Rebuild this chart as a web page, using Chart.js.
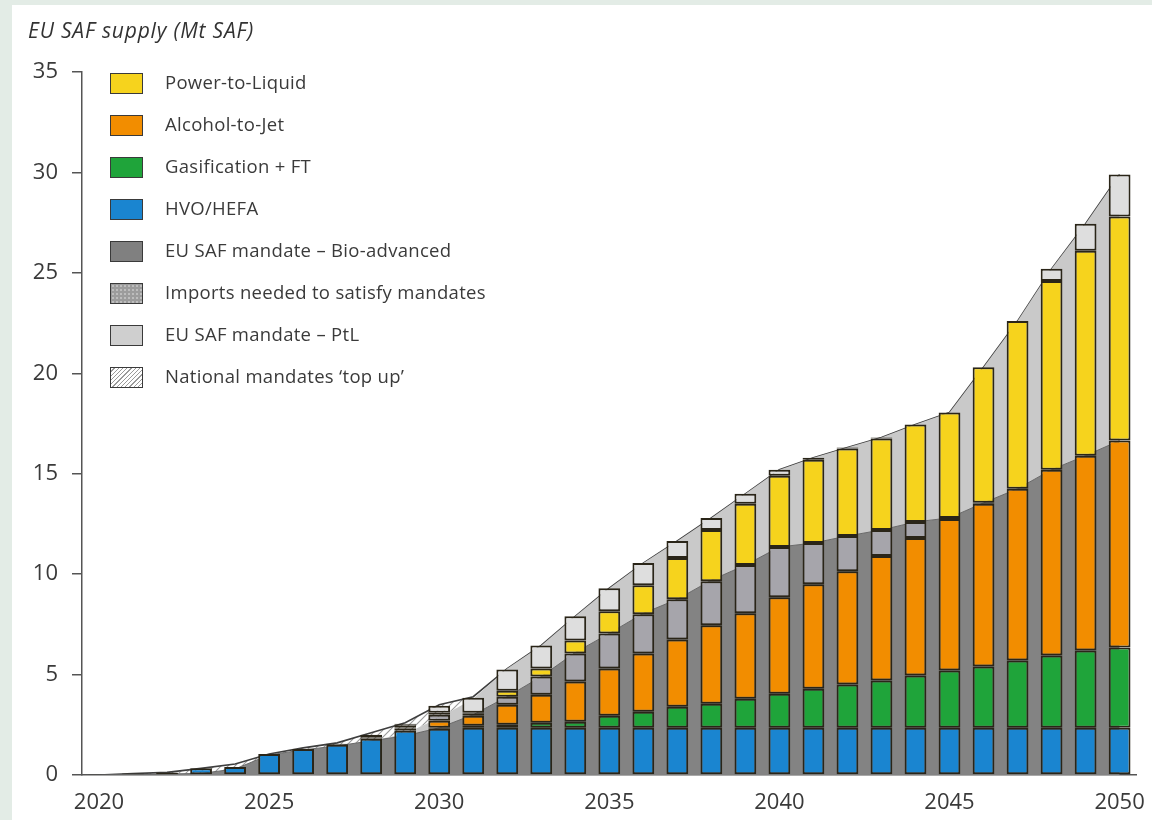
<!DOCTYPE html>
<html>
<head>
<meta charset="utf-8">
<script src="https://cdn.jsdelivr.net/npm/chart.js@4.4.1/dist/chart.umd.min.js"></script>
<style>
  body { margin: 0; background: #e3ece6; font-family: "Open Sans", sans-serif; overflow: hidden; }
  #panel { position: absolute; left: 12px; top: 5px; right: 0; bottom: 0; background: #fff; }
  #title { position: absolute; left: 28px; top: 16px; font-size: 21px; font-style: italic; letter-spacing: 0.8px; color: #333; }
  #chart { position: absolute; left: 0; top: 0; }
  #legend { position: absolute; left: 110px; top: 73px; }
  .item { position: absolute; left: 0; height: 22px; white-space: nowrap; }
  .box { position: absolute; left: 0; top: 0; width: 31px; height: 19px; border: 1.5px solid #3a3a3a; }
  .lbl { position: absolute; left: 55px; top: -4px; font-size: 18.5px; letter-spacing: 0.3px; color: #3a3a3a; }
</style>
</head>
<body>
<div id="panel"></div>
<canvas id="chart" width="1152" height="820"></canvas>
<div id="title">EU SAF supply (Mt SAF)</div>
<div id="legend"></div>
<script>
const years = ['2020','2021','2022','2023','2024','2025','2026','2027','2028','2029',
  '2030','2031','2032','2033','2034','2035','2036','2037','2038','2039',
  '2040','2041','2042','2043','2044','2045','2046','2047','2048','2049','2050'];
const xTickLabels = ['2020','2025','2030','2035','2040','2045','2050'];

// bar segments (Mt SAF)
const hvo = [0.02,0.07,0.12,0.33,0.4,1.05,1.3,1.5,1.8,2.2,
  2.3,2.35,2.35,2.35,2.35,2.35,2.35,2.35,2.35,2.35,
  2.35,2.35,2.35,2.35,2.35,2.35,2.35,2.35,2.35,2.35,2.35];
const gasFt = [null,null,null,null,null,null,null,0.05,0.05,0.1,
  0.05,0.1,0.15,0.25,0.3,0.6,0.8,1.05,1.2,1.45,
  1.7,1.95,2.15,2.35,2.6,2.85,3.05,3.35,3.6,3.85,4.0];
const atj = [null,null,null,null,null,null,null,null,0.15,0.05,
  0.35,0.5,1.0,1.4,2.0,2.35,2.9,3.35,3.9,4.25,
  4.8,5.2,5.65,6.2,6.85,7.55,8.1,8.55,9.25,9.7,10.3];
const imports = [null,null,null,null,null,null,null,null,null,0.1,
  0.3,0.1,0.4,0.9,1.4,1.75,1.95,2.0,2.2,2.4,
  2.5,2.05,1.75,1.3,0.8,0.05,0.05,null,null,null,null];
const ptl = [null,null,null,null,null,null,null,null,null,0.05,
  0.1,0.05,0.3,0.4,0.65,1.1,1.45,2.05,2.55,3.05,
  3.55,4.15,4.35,4.55,4.85,5.25,6.75,8.35,9.4,10.2,11.15];
const ptlImports = [null,null,null,null,null,null,null,null,null,0.05,
  0.35,0.75,1.05,1.15,1.2,1.15,1.1,0.85,0.6,0.5,
  0.3,0.1,0.05,0.05,null,null,null,null,0.6,1.35,2.1];

// mandate areas behind the bars
const bioMandate = [0,0.02,0.05,0.08,0.3,1.0,1.25,1.45,1.7,1.95,
  2.35,3.0,3.9,4.9,6.1,7.05,8.05,8.75,9.7,10.45,
  11.35,11.55,11.9,12.2,12.6,12.8,13.55,14.25,15.2,15.9,16.65];
const ptlMandate = [0,0,0,0,0,0,0,0,0,0.1,
  0.5,0.8,1.4,1.55,1.8,2.25,2.5,2.9,3.1,3.55,
  3.85,4.25,4.4,4.6,4.85,5.25,6.75,8.35,10.0,11.55,13.25];
const nationalTopUp = [0,0.05,0.08,0.25,0.25,0.05,0.1,0.15,0.4,0.55,
  0.65,0.1,0,0,0,0,0,0,0,0,
  0,0,0,0,0,0,0,0,0,0,0];

const legendItems = [
  ['Power-to-Liquid', '#f6d31d'],
  ['Alcohol-to-Jet', '#f28d00'],
  ['Gasification + FT', '#1fa43a'],
  ['HVO/HEFA', '#1a85d0'],
  ['EU SAF mandate \u2013 Bio-advanced', '#808080'],
  ['Imports needed to satisfy mandates', 'radial-gradient(#bdbdbd 1px, transparent 1.2px) 0 0/4px 4px, #9c9c9c'],
  ['EU SAF mandate \u2013 PtL', '#cfcfcf'],
  ['National mandates \u2018top up\u2019', 'repeating-linear-gradient(135deg, #fff 0 2px, #9a9a9a 2px 3px)']
];

const legend = document.getElementById('legend');
legendItems.forEach(([text, bg], i) => {
  const d = document.createElement('div');
  d.className = 'item';
  d.style.top = (i * 42) + 'px';
  d.innerHTML = `<div class="box" style="background:${bg}"></div><div class="lbl">${text}</div>`;
  legend.appendChild(d);
});

function hatch() {
  const c = document.createElement('canvas');
  c.width = 7; c.height = 7;
  const g = c.getContext('2d');
  g.fillStyle = '#fff';
  g.fillRect(0, 0, 7, 7);
  g.strokeStyle = '#9a9a9a';
  g.lineWidth = 1.1;
  g.beginPath();
  g.moveTo(0, 7); g.lineTo(7, 0);
  g.moveTo(-1, 1); g.lineTo(1, -1);
  g.moveTo(6, 8); g.lineTo(8, 6);
  g.stroke();
  return g.createPattern(c, 'repeat');
}

function bar(data, color) {
  return {
    type: 'bar', data, backgroundColor: color,
    borderColor: '#2a2518', borderWidth: 2, borderSkipped: false,
    barPercentage: 0.64, categoryPercentage: 1, order: 0
  };
}

function area(data, fillColor, fill, line, lineWidth) {
  return {
    type: 'line', data, backgroundColor: fillColor, fill,
    borderColor: line, borderWidth: lineWidth, pointRadius: 0,
    tension: 0, order: 1
  };
}

const tickFont = { family: 'Open Sans', size: 22 };

new Chart(document.getElementById('chart'), {
  data: {
    labels: years,
    datasets: [
      bar(hvo, '#1a85d0'),
      bar(gasFt, '#1fa43a'),
      bar(atj, '#f28d00'),
      bar(imports, '#a6a5ab'),
      bar(ptl, '#f6d31d'),
      bar(ptlImports, '#dedede'),
      area(bioMandate, '#838383', 'origin', '#6a6a6a', 1),
      area(ptlMandate, '#c9c9c9', '-1', 'rgba(0,0,0,0)', 0),
      area(nationalTopUp, hatch(), '-1', '#3f3f3f', 1.6)
    ]
  },
  options: {
    responsive: false,
    animation: false,
    devicePixelRatio: 1,
    layout: { padding: { top: 72, right: 14, left: 0, bottom: 0 } },
    plugins: { legend: { display: false }, tooltip: { enabled: false } },
    scales: {
      x: {
        stacked: true,
        grid: { display: false },
        border: { display: true, color: '#555', width: 1.5 },
        ticks: {
          autoSkip: false, maxRotation: 0, padding: 7,
          color: '#3a3a3a', font: tickFont,
          callback: (v, i) => xTickLabels.includes(years[i]) ? years[i] : ''
        },
        afterFit: s => { s.height = 45; }
      },
      y: {
        stacked: true,
        min: 0, max: 35,
        grid: { drawOnChartArea: false, drawTicks: true, tickLength: 10, color: '#555', lineWidth: 1.5 },
        border: { display: true, color: '#555', width: 1.5 },
        ticks: { stepSize: 5, padding: 14, color: '#3a3a3a', font: tickFont },
        afterFit: s => { s.width = 82; }
      }
    }
  }
});
</script>
</body>
</html>
